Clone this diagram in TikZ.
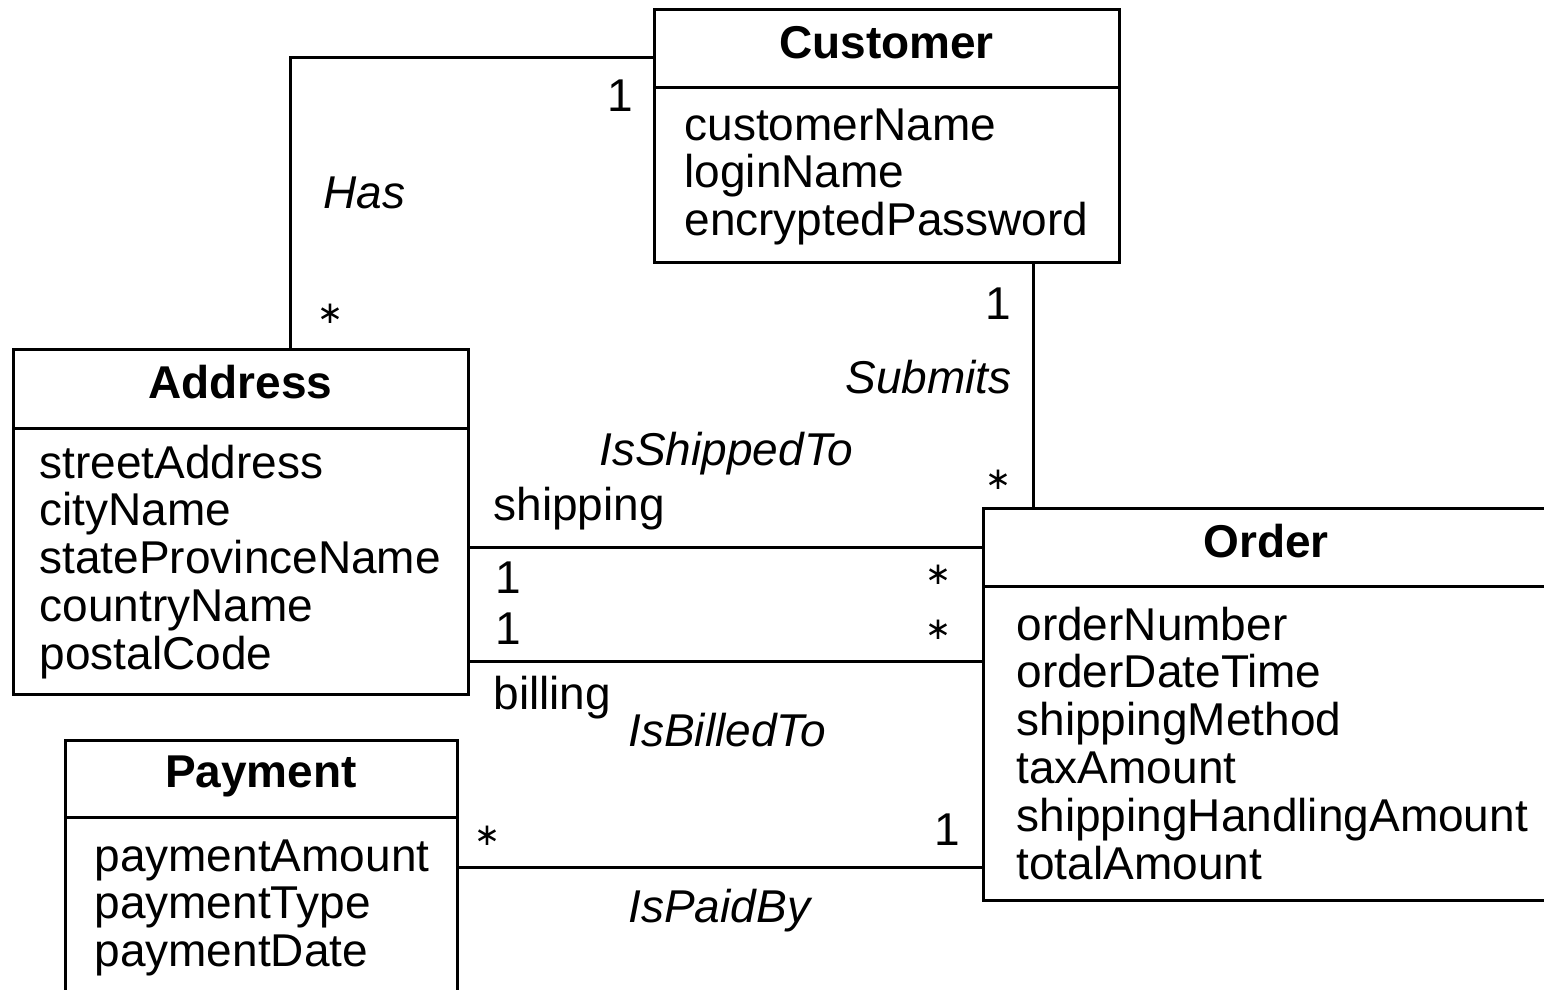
\documentclass[tikz,border=0pt]{standalone}
\usepackage{fontspec}
\setmainfont{Liberation Sans}
\newfontfamily\astfont{DejaVu Sans}
\begin{document}
\fontsize{46}{47.8}\selectfont
\begin{tikzpicture}[x=1pt,y=-1pt,line width=3pt,
  box/.style={draw,anchor=north west,inner sep=0pt,outer sep=0pt},
  ttl/.style={font=\bfseries,anchor=base,inner sep=0pt},
  attr/.style={anchor=base west,inner sep=0pt},
  lbl/.style={anchor=base,inner sep=0pt},
  assoc/.style={font=\itshape,anchor=base west,inner sep=0pt},
  ast/.style={inner sep=0pt,font=\astfont\fontsize{31}{31}\selectfont}]
\useasboundingbox (0,0) rectangle (1544,989);
% class boxes
\node[box,minimum width=465pt,minimum height=253pt] (cust) at (654,9) {};
\node[box,minimum width=455pt,minimum height=345pt] (addr) at (13,349) {};
\node[box,minimum width=566pt,minimum height=392pt] (ord) at (983,508) {};
\node[box,minimum width=392pt,minimum height=262pt] (pay) at (65,740) {};
% dividers
\coordinate (custD) at (0,87);
\coordinate (addrD) at (0,428);
\coordinate (ordD) at (0,586);
\coordinate (payD) at (0,817);
\draw (cust.west |- custD) -- (cust.east |- custD);
\draw (addr.west |- addrD) -- (addr.east |- addrD);
\draw (ord.west |- ordD) -- (ord.east |- ordD);
\draw (pay.west |- payD) -- (pay.east |- payD);
% titles
\node[ttl] (custT) at (886.5,58) {Customer};
\node[ttl] (addrT) at (240.5,398) {Address};
\node[ttl] (ordT) at (1266,557) {Order};
\node[ttl] (payT) at (261,787) {Payment};
% attributes
\node[attr] (c1) at (683,140) {customerName};
\node[attr] (c2) at (683,187.8) {loginName};
\node[attr] (c3) at (683,235.6) {encryptedPassword};
\node[attr] (a1) at (38,478) {streetAddress};
\node[attr] (a2) at (38,525.8) {cityName};
\node[attr] (a3) at (38,573.6) {stateProvinceName};
\node[attr] (a4) at (38,621.4) {countryName};
\node[attr] (a5) at (38,669.2) {postalCode};
\node[attr] (o1) at (1015,640) {orderNumber};
\node[attr] (o2) at (1015,687.8) {orderDateTime};
\node[attr] (o3) at (1015,735.6) {shippingMethod};
\node[attr] (o4) at (1015,783.4) {taxAmount};
\node[attr] (o5) at (1015,831.2) {shippingHandlingAmount};
\node[attr] (o6) at (1015,879) {totalAmount};
\node[attr] (p1) at (93,871) {paymentAmount};
\node[attr] (p2) at (93,918.8) {paymentType};
\node[attr] (p3) at (93,966.6) {paymentDate};
% connectors
\coordinate (hasX) at (290,0);
\coordinate (hasY) at (0,57);
\coordinate (subX) at (1033,0);
\coordinate (shipY) at (0,547);
\coordinate (billY) at (0,661);
\coordinate (payY) at (0,867);
\draw (addr.north -| hasX) |- (cust.west |- hasY);
\draw (cust.south -| subX) -- (ord.north -| subX);
\draw (addr.east |- shipY) -- (ord.west |- shipY);
\draw (addr.east |- billY) -- (ord.west |- billY);
\draw (pay.east |- payY) -- (ord.west |- payY);
% labels
\node[lbl] (m1) at (620,111) {1};
\node[assoc] (has) at (322,208) {Has};
\node[ast] (m2) at (330,314) {∗};
\node[lbl] (m3) at (998,319) {1};
\node[font=\itshape,anchor=base east,inner sep=0pt] (sub) at (1013,393) {Submits};
\node[ast] (m4) at (998,480) {∗};
\node[assoc] (ship) at (598,465) {IsShippedTo};
\node[attr] (shipR) at (492,520) {shipping};
\node[attr] (m5) at (494,593) {1};
\node[ast] (m6) at (938,575) {∗};
\node[attr] (m7) at (494,644) {1};
\node[ast] (m8) at (938,630) {∗};
\node[attr] (billR) at (492,709) {billing};
\node[assoc] (bill) at (627,746) {IsBilledTo};
\node[ast] (m9) at (487,836) {∗};
\node[lbl] (m10) at (947,845) {1};
\node[assoc] (paid) at (627,922) {IsPaidBy};
\end{tikzpicture}
\end{document}
